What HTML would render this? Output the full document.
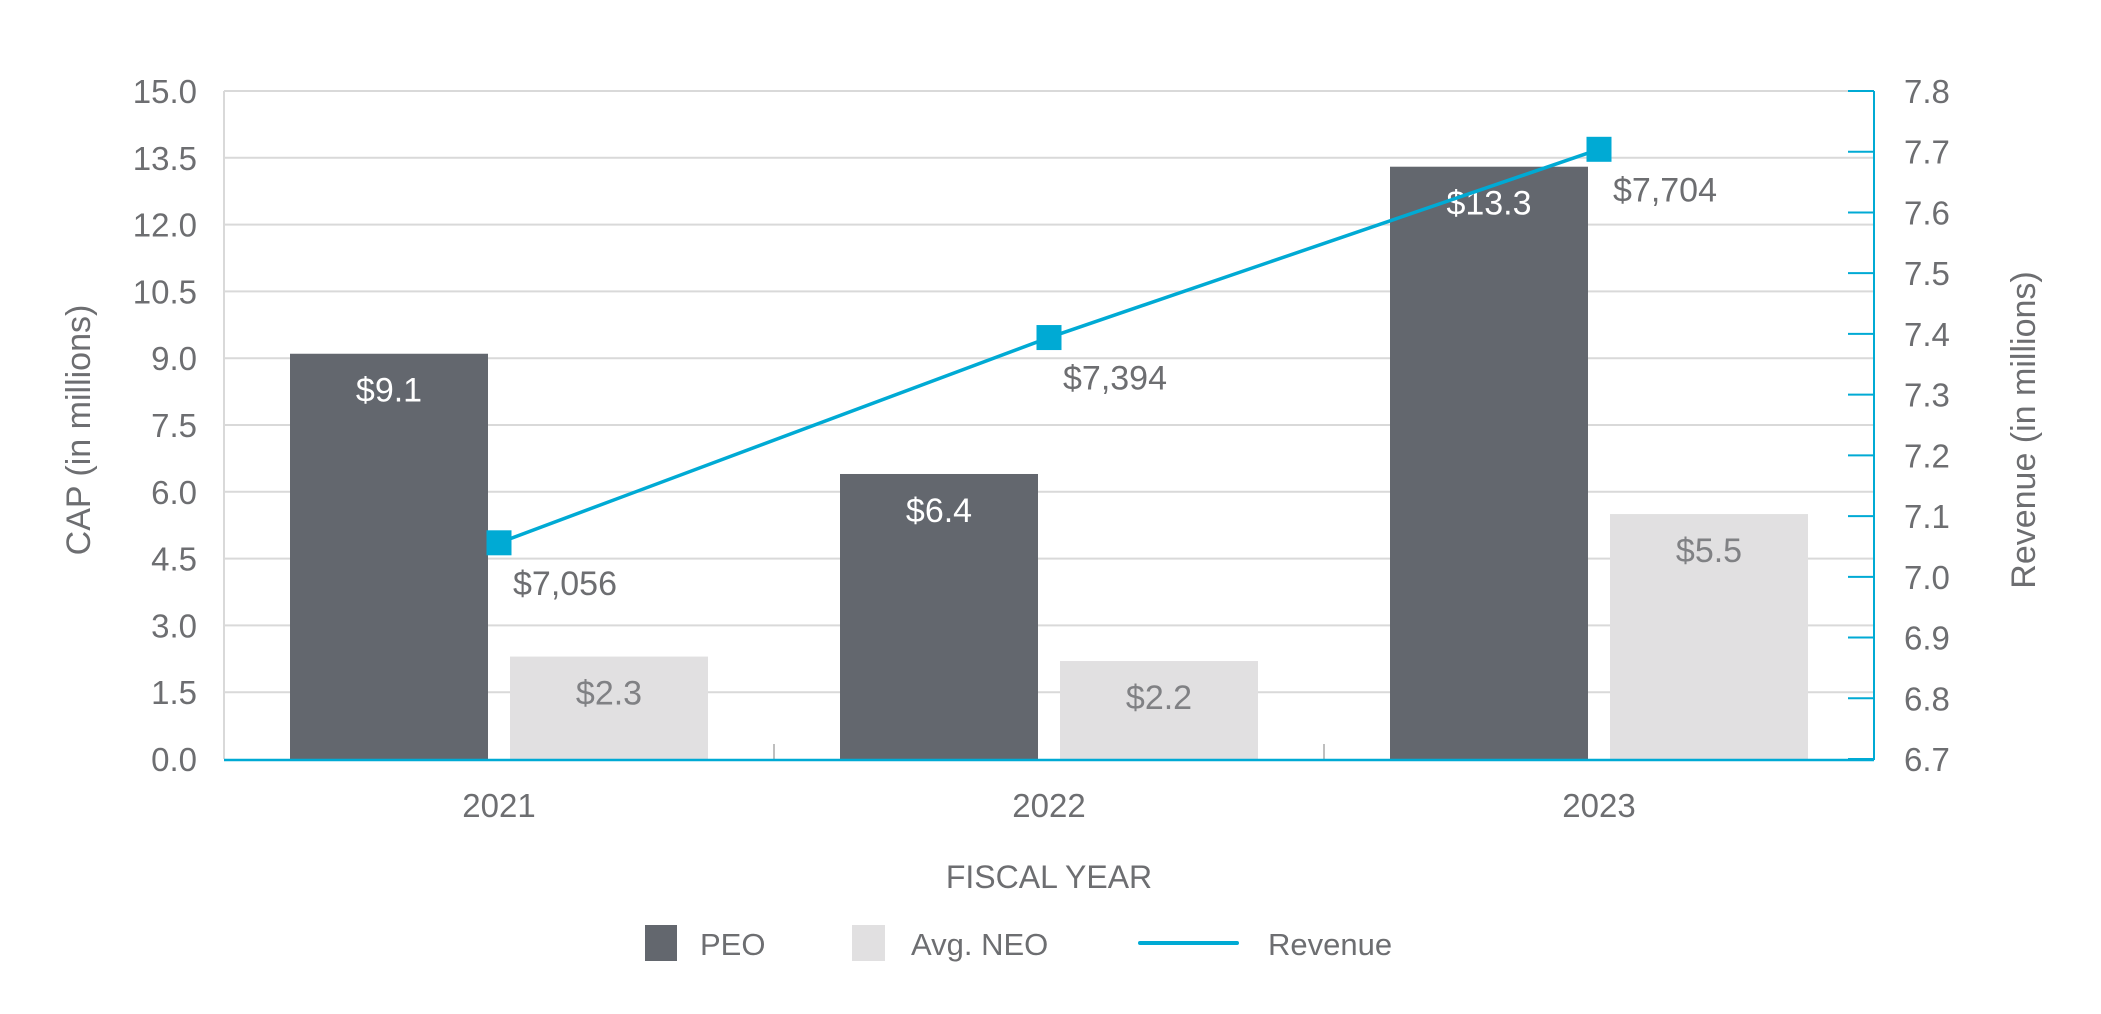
<!DOCTYPE html>
<html><head><meta charset="utf-8"><style>
body{margin:0;background:#fff;}
svg{display:block;font-family:"Liberation Sans",sans-serif;}
</style></head><body>
<svg id="chart" width="2101" height="1014" viewBox="0 0 2101 1014" xmlns="http://www.w3.org/2000/svg">
<g id="grid"></g>
<g id="bars"></g>
<g id="axes"></g>
<g id="line"></g>
<text x="0" y="0" transform="translate(90,430) rotate(-90)" text-anchor="middle" font-size="34" fill="#6d6e71">CAP (in millions)</text>
<text x="0" y="0" transform="translate(2035,430) rotate(-90)" text-anchor="middle" font-size="34" fill="#6d6e71">Revenue (in millions)</text>
<text x="1049" y="888" text-anchor="middle" font-size="32" fill="#6d6e71">FISCAL YEAR</text>
<g>
 <g><rect x="645" y="925" width="32" height="36" fill="#63676e"/><text x="700" y="955" font-size="31" fill="#6d6e71">PEO</text></g>
 <g><rect x="852" y="925" width="33" height="36" fill="#e1e0e1"/><text x="911" y="955" font-size="31" fill="#6d6e71">Avg. NEO</text></g>
 <g><line x1="1140" y1="943" x2="1237" y2="943" stroke="#00aad4" stroke-width="4" stroke-linecap="round"/><text x="1268" y="955" font-size="31" fill="#6d6e71">Revenue</text></g>
</g>
</svg>
<script>
const categories = ["2021","2022","2023"];
const peoValues = [9.1, 6.4, 13.3];
const neoValues = [2.3, 2.2, 5.5];
const revenueValues = [7056, 7394, 7704];
const peoLabels = ["$9.1","$6.4","$13.3"];
const neoLabels = ["$2.3","$2.2","$5.5"];
const revenueLabels = ["$7,056","$7,394","$7,704"];
const leftTicks = [0,1.5,3,4.5,6,7.5,9,10.5,12,13.5,15];
const rightTicks = [6.7,6.8,6.9,7.0,7.1,7.2,7.3,7.4,7.5,7.6,7.7,7.8];

const NS="http://www.w3.org/2000/svg";
const L=224,R=1874,T=91,B=759;
const yL=v=>B-(v-0)/15*(B-T);
const yR=v=>B-(v-6.7)/1.1*(B-T);
const bw=(R-L)/categories.length;
const cx=i=>L+bw*(i+0.5);
function mk(tag,attrs,parent,txt){const e=document.createElementNS(NS,tag);for(const k in attrs)e.setAttribute(k,attrs[k]);if(txt!==undefined)e.textContent=txt;parent.appendChild(e);return e;}
const grid=document.getElementById('grid'),bars=document.getElementById('bars'),axes=document.getElementById('axes'),line=document.getElementById('line');

leftTicks.forEach(v=>{
  const y=yL(v);
  if(v>0){const g=mk('line',{x1:L,x2:R,y1:y,y2:y,stroke:'#d9d9d9','stroke-width':2},grid);
  
  }
  const t=mk('text',{x:197,y:y+12,'text-anchor':'end','font-size':33,fill:'#6d6e71'},axes,v.toFixed(1));
  
  
});
rightTicks.forEach(v=>{
  const y=yR(v);
  const tk=mk('line',{x1:1848,x2:R,y1:y,y2:y,stroke:'#00aad4','stroke-width':2},axes);
  
  
  const t=mk('text',{x:1904,y:y+12,'font-size':33,fill:'#6d6e71'},axes,v.toFixed(1));
  
  
});
const la=mk('line',{x1:L,x2:L,y1:T,y2:B,stroke:'#d9d9d9','stroke-width':2},axes);


const ra=mk('line',{x1:R,x2:R,y1:T,y2:B+1,stroke:'#00aad4','stroke-width':2},axes);



categories.forEach((c,i)=>{
  const c0=cx(i);
  const pb=mk('rect',{x:c0-209,y:yL(peoValues[i]),width:198,height:B-yL(peoValues[i]),fill:'#63676e'},bars);
  
  
  const pl=mk('text',{x:c0-110,y:yL(peoValues[i])+48,'text-anchor':'middle','font-size':34,fill:'#fff'},bars,peoLabels[i]);
  
  
  const nb=mk('rect',{x:c0+11,y:yL(neoValues[i]),width:198,height:B-yL(neoValues[i]),fill:'#e1e0e1'},bars);
  
  
  const nl=mk('text',{x:c0+110,y:yL(neoValues[i])+48,'text-anchor':'middle','font-size':34,fill:'#808184'},bars,neoLabels[i]);
  
  
  const xl=mk('text',{x:c0,y:817,'text-anchor':'middle','font-size':33,fill:'#6d6e71'},axes,c);
  
  
  if(i>0){const tk=mk('line',{x1:L+bw*i,x2:L+bw*i,y1:744,y2:B,stroke:'#bfbfbf','stroke-width':2},axes);
  
  }
});
const ba=mk('line',{x1:L,x2:R,y1:B+1,y2:B+1,stroke:'#00aad4','stroke-width':2.5},axes);



const pts=revenueValues.map((v,i)=>[cx(i),yR(v/1000)]);
const pl=mk('polyline',{points:pts.map(p=>p.join(',')).join(' '),fill:'none',stroke:'#00aad4','stroke-width':3.5},line);


pts.forEach((p,i)=>{
  const m=mk('rect',{x:p[0]-12.5,y:p[1]-12.5,width:25,height:25,fill:'#00aad4'},line);
  
  
  const t=mk('text',{x:p[0]+14,y:p[1]+52,'font-size':34,fill:'#6d6e71'},line,revenueLabels[i]);
  
  
});
</script>
</body></html>
